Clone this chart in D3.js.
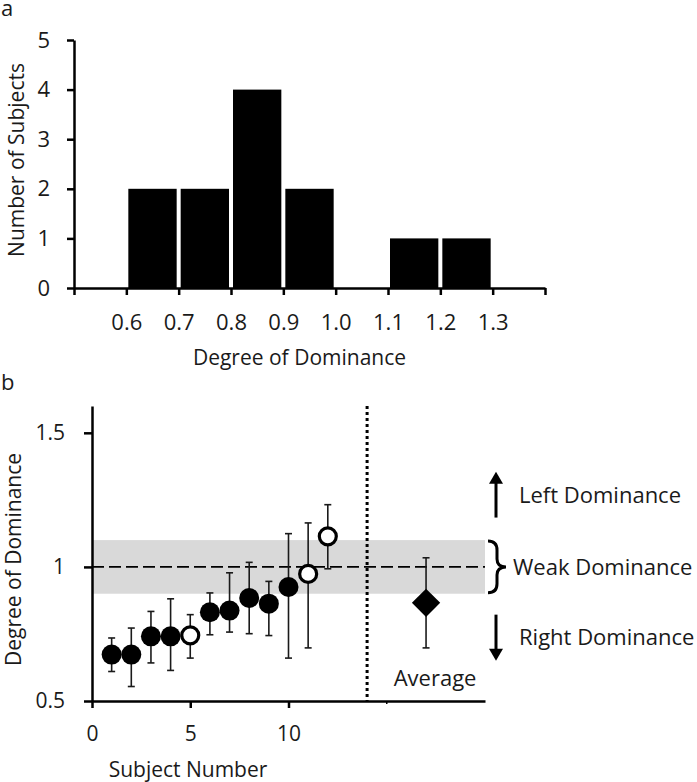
<!DOCTYPE html>
<html>
<head>
<meta charset="utf-8">
<script src="https://cdn.jsdelivr.net/npm/d3@7"></script>
<style>
  html, body { margin: 0; padding: 0; background: #fff; }
  svg { display: block; }
  text { font-family: "Open Sans", sans-serif; fill: #1a1a1a; }
</style>
</head>
<body>
<svg id="chart" width="697" height="782"></svg>
<script>
// ---------- Data ----------
// Panel a: histogram of degree of dominance
const binStarts = [0.6, 0.7, 0.8, 0.9, 1.0, 1.1, 1.2];
const binCounts = [2, 2, 4, 2, 0, 1, 1];
const histXTicks = [0.5, 0.6, 0.7, 0.8, 0.9, 1.0, 1.1, 1.2, 1.3, 1.4];
const histXTickLabels = ["", "0.6", "0.7", "0.8", "0.9", "1.0", "1.1", "1.2", "1.3", ""];
const histYTicks = [0, 1, 2, 3, 4, 5];

// Panel b: per-subject degree of dominance with error bars
const subjects = [1, 2, 3, 4, 5, 6, 7, 8, 9, 10, 11, 12];
const dominance = [0.673, 0.673, 0.741, 0.741, 0.745, 0.831, 0.837, 0.884, 0.863, 0.925, 0.974, 1.114];
const errLow =    [0.610, 0.554, 0.642, 0.614, 0.660, 0.747, 0.757, 0.751, 0.744, 0.660, 0.698, 0.993];
const errHigh =   [0.735, 0.772, 0.834, 0.881, 0.822, 0.903, 0.978, 1.017, 0.946, 1.124, 1.164, 1.232];
const openMarker = [false, false, false, false, true, false, false, false, false, false, true, true];
const averageX = 17;
const averageValue = 0.866;
const averageLow = 0.698;
const averageHigh = 1.034;
const weakBand = [0.9, 1.1];
const separatorX = 14;
const scatterXTicks = [0, 5, 10];
const scatterYTicks = [0.5, 1, 1.5];
const scatterYTickLabels = ["0.5", "1", "1.5"];

// ---------- Drawing ----------
const svg = d3.select("#chart");

// ===== Panel a =====
const xA = d3.scaleLinear().domain([0.5, 1.4]).range([74, 545]);
const yA = d3.scaleLinear().domain([0, 5]).range([288, 40]);

svg.append("text").attr("x", 1).attr("y", 16).style("font-size", "22px").text("a");

svg.append("g").selectAll("rect")
  .data(binStarts.map((s, i) => ({ s, c: binCounts[i] })).filter(d => d.c > 0))
  .join("rect")
  .attr("x", d => xA(d.s) + 2)
  .attr("width", d => xA(d.s + 0.1) - xA(d.s) - 4)
  .attr("y", d => yA(d.c))
  .attr("height", d => yA(0) - yA(d.c))
  .attr("fill", "#000");

const axA_x = svg.append("g").attr("transform", `translate(0,${yA(0)})`)
  .call(d3.axisBottom(xA).tickValues(histXTicks)
    .tickFormat((d, i) => histXTickLabels[i]).tickSize(7).tickSizeOuter(0).tickPadding(19));
const axA_y = svg.append("g").attr("transform", `translate(${xA(0.5)},0)`)
  .call(d3.axisLeft(yA).tickValues(histYTicks).tickFormat(d3.format("d"))
    .tickSize(7).tickSizeOuter(0).tickPadding(17));
[axA_x, axA_y].forEach(g => {
  g.select(".domain").attr("stroke", "#000").attr("stroke-width", 2.5);
  g.selectAll(".tick line").attr("stroke", "#000").attr("stroke-width", 2.5);
  g.selectAll(".tick text").style("font-size", "22px").style("font-family", "'Open Sans', sans-serif").attr("fill", "#1a1a1a");
});

svg.append("text")
  .attr("x", (xA(0.5) + xA(1.4)) / 2 - 10).attr("y", 365)
  .attr("text-anchor", "middle").style("font-size", "21px")
  .text("Degree of Dominance");
svg.append("text")
  .attr("transform", `translate(24,${(yA(0) + yA(5)) / 2 - 4}) rotate(-90)`)
  .attr("text-anchor", "middle").style("font-size", "21px")
  .text("Number of Subjects");

// ===== Panel b =====
const xB = d3.scaleLinear().domain([0, 20]).range([92, 485]);
const yB = d3.scaleLinear().domain([0.5, 1.6]).range([701, 406]);

svg.append("text").attr("x", 1).attr("y", 390).style("font-size", "22px").text("b");

// grey weak-dominance band
svg.append("rect")
  .attr("x", xB(0)).attr("width", xB(20) - xB(0))
  .attr("y", yB(weakBand[1])).attr("height", yB(weakBand[0]) - yB(weakBand[1]))
  .attr("fill", "#d9d9d9");

// dashed line at 1
svg.append("line")
  .attr("x1", xB(0)).attr("x2", xB(20)).attr("y1", yB(1)).attr("y2", yB(1))
  .attr("stroke", "#000").attr("stroke-width", 1.6).attr("stroke-dasharray", "12,5");

// dotted separator
svg.append("line")
  .attr("x1", xB(separatorX)).attr("x2", xB(separatorX))
  .attr("y1", yB(1.6)).attr("y2", yB(0.5))
  .attr("stroke", "#000").attr("stroke-width", 3).attr("stroke-dasharray", "3,3");

// axes
const axB_x = svg.append("g").attr("transform", `translate(0,${yB(0.5)})`)
  .call(d3.axisBottom(xB).tickValues(scatterXTicks).tickFormat(d3.format("d"))
    .tickSize(7).tickSizeOuter(0).tickPadding(18));
axB_x.append("line").attr("x1", xB(15)).attr("x2", xB(15)).attr("y1", 0).attr("y2", 3)
  .attr("stroke", "#000").attr("stroke-width", 1.5);
const axB_y = svg.append("g").attr("transform", `translate(${xB(0)},0)`)
  .call(d3.axisLeft(yB).tickValues(scatterYTicks).tickFormat((d, i) => scatterYTickLabels[i])
    .tickSize(8).tickSizeOuter(0).tickPadding(19));
[axB_x, axB_y].forEach(g => {
  g.select(".domain").attr("stroke", "#000").attr("stroke-width", 2.5);
  g.selectAll(".tick line").attr("stroke", "#000").attr("stroke-width", 2.5);
  g.selectAll(".tick text").style("font-size", "21px").style("font-family", "'Open Sans', sans-serif").attr("fill", "#1a1a1a");
});

// error bars
const pts = subjects.map((s, i) => ({ x: s, v: dominance[i], lo: errLow[i], hi: errHigh[i], open: openMarker[i] }));
const eb = svg.append("g").attr("stroke", "#1a1a1a").attr("stroke-width", 1.6).attr("fill", "none");
pts.concat([{ x: averageX, v: averageValue, lo: averageLow, hi: averageHigh }]).forEach(d => {
  eb.append("line").attr("x1", xB(d.x)).attr("x2", xB(d.x)).attr("y1", yB(d.lo)).attr("y2", yB(d.hi));
  eb.append("line").attr("x1", xB(d.x) - 3.5).attr("x2", xB(d.x) + 3.5).attr("y1", yB(d.lo)).attr("y2", yB(d.lo));
  eb.append("line").attr("x1", xB(d.x) - 3.5).attr("x2", xB(d.x) + 3.5).attr("y1", yB(d.hi)).attr("y2", yB(d.hi));
});

// markers
svg.append("g").selectAll("circle").data(pts).join("circle")
  .attr("cx", d => xB(d.x)).attr("cy", d => yB(d.v))
  .attr("r", d => d.open ? 8.5 : 10)
  .attr("fill", d => d.open ? "#fff" : "#000")
  .attr("stroke", "#000").attr("stroke-width", d => d.open ? 3.2 : 0);

// average diamond
svg.append("path")
  .attr("d", d3.symbol(d3.symbolSquare, 400)())
  .attr("transform", `translate(${xB(averageX)},${yB(averageValue)}) rotate(45)`)
  .attr("fill", "#000");

svg.append("text")
  .attr("x", xB(averageX) + 9).attr("y", 686)
  .attr("text-anchor", "middle").style("font-size", "22px")
  .text("Average");

// axis titles
svg.append("text")
  .attr("transform", `translate(21,${(yB(0.5) + yB(1.6)) / 2 + 6}) rotate(-90)`)
  .attr("text-anchor", "middle").style("font-size", "21px")
  .text("Degree of Dominance");
svg.append("text")
  .attr("x", xB(0) + 96).attr("y", 777)
  .attr("text-anchor", "middle").style("font-size", "21px")
  .text("Subject Number");

// right annotations
const annX = 496;
svg.append("line").attr("x1", annX).attr("x2", annX)
  .attr("y1", yB(1.184)).attr("y2", yB(1.335))
  .attr("stroke", "#000").attr("stroke-width", 3);
svg.append("path")
  .attr("d", `M${annX - 7},${yB(1.31)} L${annX},${yB(1.355)} L${annX + 7},${yB(1.31)} Z`)
  .attr("fill", "#000");
svg.append("line").attr("x1", annX).attr("x2", annX)
  .attr("y1", yB(0.822)).attr("y2", yB(0.67))
  .attr("stroke", "#000").attr("stroke-width", 3);
svg.append("path")
  .attr("d", `M${annX - 7},${yB(0.695)} L${annX},${yB(0.65)} L${annX + 7},${yB(0.695)} Z`)
  .attr("fill", "#000");

// brace
const bTop = yB(1.1), bBot = yB(0.9), bMid = yB(1.0);
svg.append("path")
  .attr("d", `M488,${bTop + 1} Q497,${bTop + 1} 497,${bTop + 10} L497,${bMid - 8} Q497,${bMid} 506,${bMid} Q497,${bMid} 497,${bMid + 8} L497,${bBot - 10} Q497,${bBot - 1} 488,${bBot - 1}`)
  .attr("fill", "none").attr("stroke", "#000").attr("stroke-width", 3);

svg.append("text").attr("x", 519).attr("y", yB(1.266)).attr("dy", "0.35em")
  .style("font-size", "22px").text("Left Dominance");
svg.append("text").attr("x", 513).attr("y", yB(1.0)).attr("dy", "0.35em")
  .style("font-size", "22px").text("Weak Dominance");
svg.append("text").attr("x", 519).attr("y", yB(0.736)).attr("dy", "0.35em")
  .style("font-size", "22px").text("Right Dominance");
</script>
</body>
</html>
